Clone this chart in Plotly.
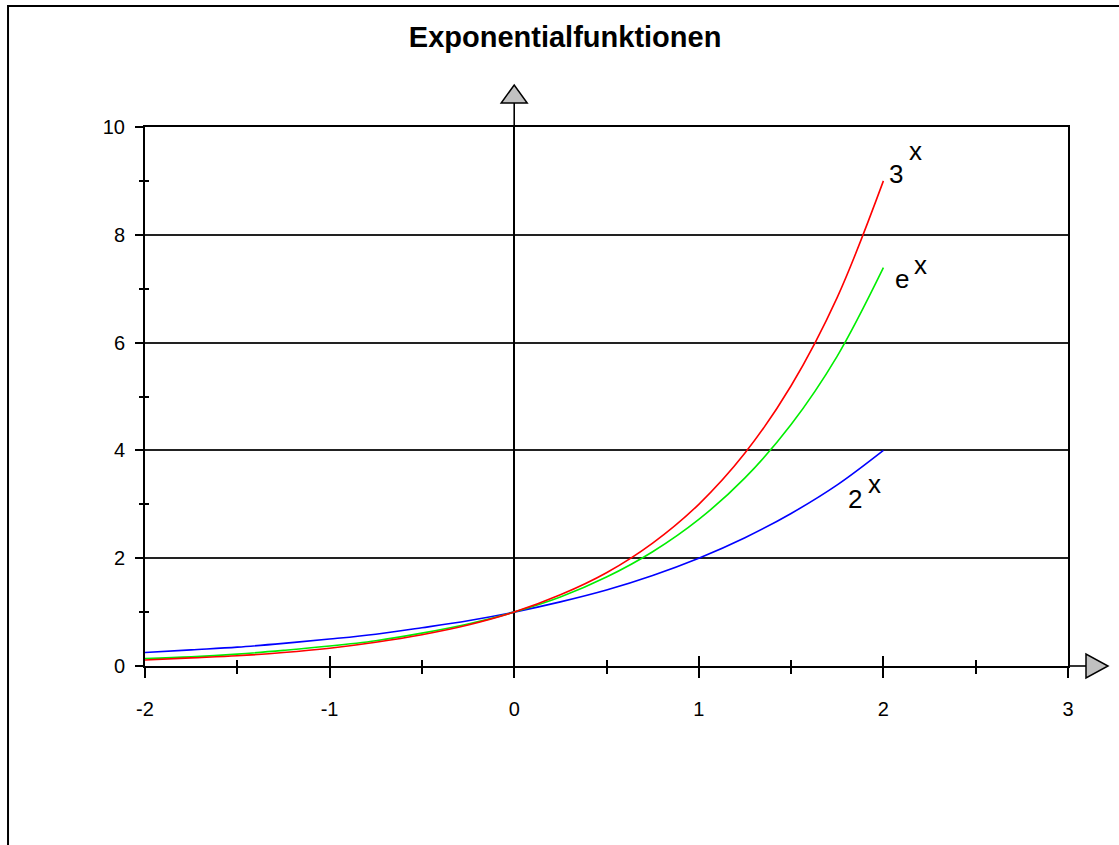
import plotly.graph_objects as go

# ---- data ----
x_vals = [-2, -1.75, -1.5, -1.25, -1, -0.75, -0.5, -0.25, 0, 0.25, 0.5, 0.75, 1, 1.25, 1.5, 1.75, 2]
y_2x = [0.25, 0.30, 0.35, 0.42, 0.50, 0.59, 0.71, 0.84, 1.00, 1.19, 1.41, 1.68, 2.00, 2.38, 2.83, 3.36, 4.00]
y_ex = [0.14, 0.17, 0.22, 0.29, 0.37, 0.47, 0.61, 0.78, 1.00, 1.28, 1.65, 2.12, 2.72, 3.49, 4.48, 5.75, 7.39]
y_3x = [0.11, 0.15, 0.19, 0.25, 0.33, 0.44, 0.58, 0.76, 1.00, 1.32, 1.73, 2.28, 3.00, 3.95, 5.20, 6.84, 9.00]

series_names = ["2^x", "e^x", "3^x"]
label_bases = ["2", "e", "3"]
label_exps = ["x", "x", "x"]

x_major = [-2, -1, 0, 1, 2, 3]
x_major_text = ["-2", "-1", "0", "1", "2", "3"]
x_minor = [-1.5, -0.5, 0.5, 1.5, 2.5]
y_major = [0, 2, 4, 6, 8, 10]
y_major_text = ["0", "2", "4", "6", "8", "10"]
y_minor = [1, 3, 5, 7, 9]

title_text = "Exponentialfunktionen"

FONT = "Liberation Sans, Arial, sans-serif"
colors = ["#0000FF", "#00EE00", "#FF0000"]
ys = [y_2x, y_ex, y_3x]

fig = go.Figure()
for name, yv, c in zip(series_names, ys, colors):
    fig.add_trace(go.Scatter(x=x_vals, y=yv, mode="lines", name=name,
                             line=dict(color=c, width=1.6, shape="spline"),
                             showlegend=False, hoverinfo="skip"))
# invisible trace for overlay axes
fig.add_trace(go.Scatter(x=[x_major[0]], y=[y_major[0]], xaxis="x2", yaxis="y2",
                         mode="markers", marker=dict(opacity=0), showlegend=False,
                         hoverinfo="skip"))

# curve labels (anchored at the curve ends, pixel offsets)
base_shift = [(-28, -49), (19, -11), (13, 7)]
exp_shift = [(-9, -34), (37, 3), (32, 30)]
for yv, b, e, bs, es in zip(ys, label_bases, label_exps, base_shift, exp_shift):
    fig.add_annotation(x=x_vals[-1], y=yv[-1], text=b, showarrow=False,
                       xshift=bs[0], yshift=bs[1],
                       font=dict(family=FONT, size=26, color="black"))
    fig.add_annotation(x=x_vals[-1], y=yv[-1], text=e, showarrow=False,
                       xshift=es[0], yshift=es[1],
                       font=dict(family=FONT, size=26, color="black"))

xr = [x_major[0], x_major[-1]]
yr = [y_major[0], y_major[-1]]

fig.update_layout(
    width=1119, height=845,
    margin=dict(l=145, r=51, t=127, b=179),
    paper_bgcolor="white", plot_bgcolor="white",
    font=dict(family=FONT, color="black"),
    title=dict(text="<b>" + title_text + "</b>", x=0.505, xanchor="center",
               xref="container", y=0.956, yref="container", yanchor="middle",
               font=dict(family=FONT, size=29, color="black")),
    xaxis=dict(range=xr, tickvals=x_major, ticktext=x_major_text,
               ticks="outside", ticklen=10, tickwidth=1.5, tickcolor="black",
               minor=dict(tickvals=x_minor, ticks="outside", ticklen=6,
                          tickwidth=1.5, tickcolor="black"),
               showgrid=False, zeroline=True, zerolinecolor="black", zerolinewidth=1.6,
               showline=True, linecolor="black", linewidth=2, mirror=True,
               ticklabelstandoff=14,
               tickfont=dict(family=FONT, size=20, color="black"), fixedrange=True),
    yaxis=dict(range=yr, tickvals=y_major, ticktext=y_major_text,
               ticks="outside", ticklen=8, tickwidth=1.5, tickcolor="black",
               minor=dict(tickvals=y_minor, ticks="outside", ticklen=4,
                          tickwidth=1.5, tickcolor="black"),
               showgrid=True, gridcolor="#222222", gridwidth=2,
               zeroline=False,
               showline=True, linecolor="black", linewidth=2, mirror=True,
               ticklabelstandoff=6,
               tickfont=dict(family=FONT, size=20, color="black"), fixedrange=True),
    xaxis2=dict(range=xr, overlaying="x", anchor="y2", side="bottom",
                tickvals=x_major, ticks="inside", ticklen=10, tickwidth=1.5,
                tickcolor="black",
                minor=dict(tickvals=x_minor, ticks="inside", ticklen=6,
                           tickwidth=1.5, tickcolor="black"),
                showticklabels=False, showgrid=False, zeroline=False,
                showline=False, fixedrange=True),
    yaxis2=dict(range=yr, overlaying="y", anchor="x2", side="left",
                tickvals=y_minor, ticks="inside", ticklen=4, tickwidth=1.5,
                tickcolor="black",
                showticklabels=False, showgrid=False, zeroline=False,
                showline=False, fixedrange=True),
)

# outer frame
fig.add_shape(type="rect", xref="paper", yref="paper",
              x0=-0.1484, x1=1.2, y0=-0.5, y1=1.2245,
              line=dict(color="black", width=2), layer="below")

# axis extensions and arrow heads (paper refs so nothing is clipped)
fig.add_shape(type="line", xref="x", yref="paper", x0=0, x1=0, y0=1, y1=1.0445,
              line=dict(color="black", width=1.6))
fig.add_shape(type="path", xref="x", yref="paper", xsizemode="pixel", ysizemode="pixel",
              xanchor=0, yanchor=1.0445, path="M -13,0 L 13,0 L 0,18 Z",
              fillcolor="#C0C0C0", line=dict(color="black", width=1.5))
fig.add_shape(type="line", xref="paper", yref="paper", x0=1, x1=1.0195, y0=0, y1=0,
              line=dict(color="black", width=1.6))
fig.add_shape(type="path", xref="paper", yref="paper", xsizemode="pixel", ysizemode="pixel",
              xanchor=1.0195, yanchor=0, path="M 0,-12 L 0,12 L 22,0 Z",
              fillcolor="#C0C0C0", line=dict(color="black", width=1.5))

fig.write_html(
    "out.html", config=dict(displayModeBar=False),
    post_script=("document.documentElement.style.margin='0px';"
                 "document.documentElement.style.overflow='hidden';"
                 "document.body.style.margin='0px';"
                 "document.body.style.overflow='hidden';"))
